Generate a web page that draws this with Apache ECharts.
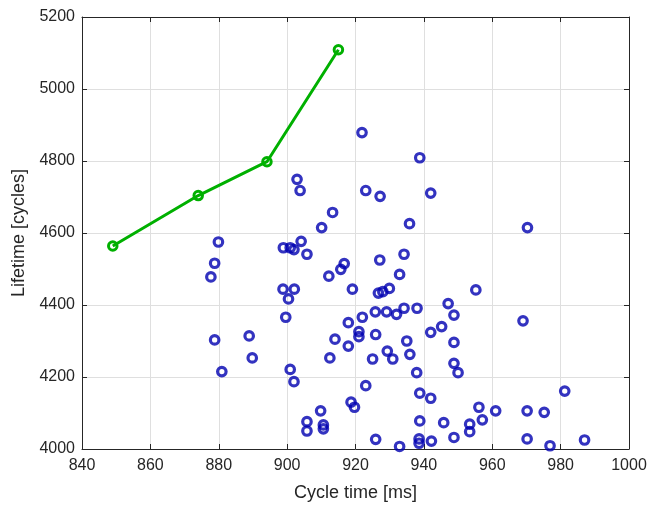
<!DOCTYPE html>
<html>
<head>
<meta charset="utf-8">
<script src="https://cdn.jsdelivr.net/npm/echarts@6/dist/echarts.min.js"></script>
<style>
  html, body { margin: 0; padding: 0; background: #ffffff; }
  #chart { width: 650px; height: 507px; }
</style>
</head>
<body>
<div id="chart"></div>
<script>
// Measured runs: cycle time [ms] and lifetime [cycles]
const cycleTimeMeasured = [
  921.9, 938.8, 902.9, 903.8, 923.0, 927.2, 942.0, 913.3, 935.8, 970.3,
  910.1, 879.9, 878.8, 877.7, 898.9, 900.9, 902.0, 904.1, 905.8, 934.2,
  927.1, 932.9, 916.7, 915.7, 912.2, 898.8, 902.1, 900.4, 899.6, 878.8,
  888.9, 880.9, 889.8, 900.9, 902.0, 909.8, 905.8, 905.8, 910.6, 910.6,
  912.5, 914.0, 919.1, 926.7, 928.0, 929.9, 917.9, 922.0, 925.8, 929.1,
  932.0, 934.2, 938.0, 947.1, 948.8, 945.2, 942.0, 948.8, 921.0, 921.0,
  925.9, 917.9, 925.0, 929.3, 930.9, 935.0, 935.9, 937.9, 948.8, 950.0,
  923.0, 918.7, 919.7, 938.8, 942.0, 938.8, 945.8, 953.4, 953.4, 925.9,
  932.9, 938.6, 938.6, 942.2, 948.8, 955.2, 969.0, 981.2, 956.1, 957.1,
  961.0, 970.2, 975.2, 970.2, 976.9, 987.0
];
const lifetimeMeasured = [
  4879, 4809, 4749, 4718, 4718, 4702, 4711, 4657, 4626, 4615,
  4615, 4575, 4516, 4478, 4559, 4559, 4554, 4577, 4541, 4541,
  4525, 4485, 4515, 4499, 4480, 4444, 4444, 4417, 4366, 4303,
  4314, 4215, 4253, 4221, 4187, 4106, 4076, 4050, 4067, 4056,
  4253, 4305, 4444, 4433, 4437, 4446, 4351, 4366, 4381, 4381,
  4374, 4391, 4391, 4404, 4372, 4340, 4324, 4296, 4326, 4312,
  4318, 4286, 4250, 4272, 4250, 4300, 4263, 4212, 4238, 4212,
  4176, 4130, 4116, 4155, 4141, 4078, 4073, 4069, 4048, 4027,
  4007, 4028, 4016, 4022, 4032, 4442, 4356, 4161, 4116, 4081,
  4106, 4106, 4102, 4028, 4009, 4025
];

// Front line: best lifetime reached for a given cycle time
const cycleTimeFront = [849, 874, 894.1, 915];
const lifetimeFront = [4564, 4704, 4798, 5109];

// Tick values on each axis
const xTickValues = [840, 860, 880, 900, 920, 940, 960, 980, 1000];
const yTickValues = [4000, 4200, 4400, 4600, 4800, 5000, 5200];

const FONT = 'Liberation Sans, Arial, Helvetica, sans-serif';
const INK = '#262626';
const BLUE = '#0000b0';
const GREEN = '#00b000';

const xMin = xTickValues[0], xMax = xTickValues[xTickValues.length - 1];
const xStep = xTickValues[1] - xTickValues[0];
const yMin = yTickValues[0], yMax = yTickValues[yTickValues.length - 1];
const yStep = yTickValues[1] - yTickValues[0];

const plainNumber = v => String(v);

function frameAxis(extra) {
  return Object.assign({
    type: 'value',
    axisLine: { show: true, onZero: false, lineStyle: { color: INK, width: 1 } },
    axisTick: { show: true, inside: true, length: 5, lineStyle: { color: INK, width: 1 } },
    axisLabel: { show: false },
    splitLine: { show: false }
  }, extra);
}

const chart = echarts.init(document.getElementById('chart'), null, { renderer: 'canvas' });

chart.setOption({
  backgroundColor: '#ffffff',
  animation: false,
  grid: { left: 82, right: 21, top: 17, bottom: 58, containLabel: false },
  xAxis: [
    frameAxis({
      position: 'bottom', min: xMin, max: xMax, interval: xStep,
      axisLabel: { show: true, color: INK, fontFamily: FONT, fontSize: 16, margin: 9, formatter: plainNumber },
      splitLine: { show: true, lineStyle: { color: '#dfdfdf', width: 1 } },
      name: 'Cycle time [ms]', nameLocation: 'middle', nameGap: 35,
      nameTextStyle: { color: INK, fontFamily: FONT, fontSize: 18 }
    }),
    frameAxis({ position: 'top', min: xMin, max: xMax, interval: xStep })
  ],
  yAxis: [
    frameAxis({
      position: 'left', min: yMin, max: yMax, interval: yStep,
      axisLabel: { show: true, color: INK, fontFamily: FONT, fontSize: 16, margin: 7, formatter: plainNumber },
      splitLine: { show: true, lineStyle: { color: '#dfdfdf', width: 1 } },
      name: 'Lifetime [cycles]', nameLocation: 'middle', nameGap: 52,
      nameTextStyle: { color: INK, fontFamily: FONT, fontSize: 18 }
    }),
    frameAxis({ position: 'right', min: yMin, max: yMax, interval: yStep })
  ],
  series: [
    {
      type: 'scatter',
      xAxisIndex: 0, yAxisIndex: 0,
      data: cycleTimeMeasured.map((x, i) => [x, lifetimeMeasured[i]]),
      symbol: 'circle',
      symbolSize: 8.5,
      itemStyle: { color: 'rgba(0,0,0,0)', borderColor: BLUE, borderWidth: 3.2 },
      z: 3
    },
    {
      type: 'line',
      xAxisIndex: 0, yAxisIndex: 0,
      data: cycleTimeFront.map((x, i) => [x, lifetimeFront[i]]),
      symbol: 'circle',
      symbolSize: 8.5,
      showAllSymbol: true,
      lineStyle: { color: GREEN, width: 3 },
      itemStyle: { color: 'rgba(0,0,0,0)', borderColor: GREEN, borderWidth: 3 },
      z: 4
    }
  ]
});
</script>
</body>
</html>
